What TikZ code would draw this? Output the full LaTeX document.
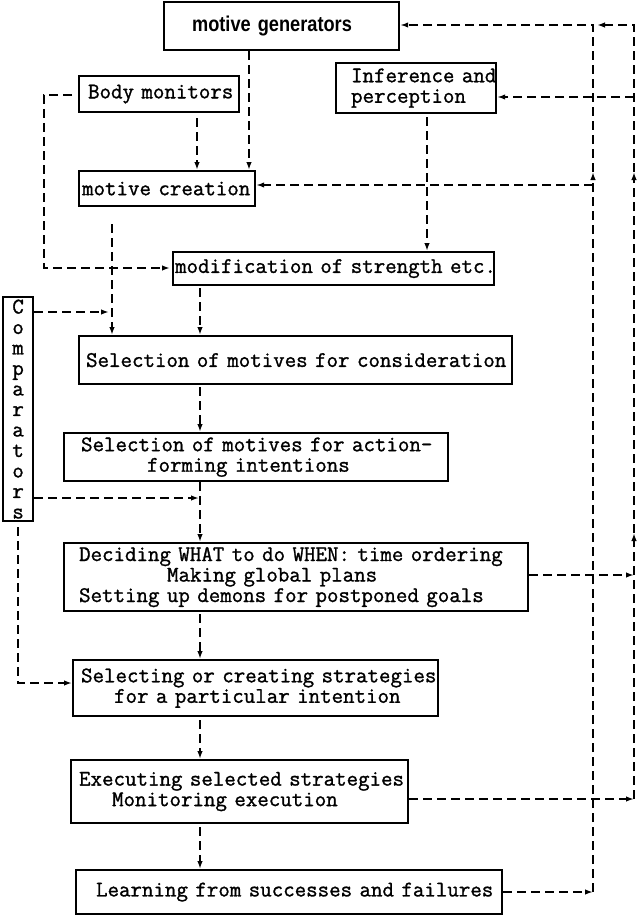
\documentclass[tikz,border=0pt]{standalone}
\usepackage{fontspec}
\usetikzlibrary{arrows.meta}
\newfontfamily\monofont[FakeBold=1.2]{Latin Modern Mono}
\newfontfamily\mgfont[FakeStretch=0.85]{Liberation Sans}
\begin{document}
\begin{tikzpicture}[x=1pt,y=-1pt,
  box/.style={draw, line width=2.2pt, inner sep=0pt, anchor=north west, align=left,
    font={\monofont\fontsize{22.3}{20.5}\selectfont}},
  conn/.style={line width=1.8pt, dash pattern=on 9pt off 5pt, -{Latex[length=8pt,width=5.5pt]}}]
\useasboundingbox (0,0) rectangle (638,915);

\node[box, text width=235pt, minimum height=48pt, font={\mgfont\bfseries\fontsize{21.4}{24}\selectfont}] (mg) at (163,1) {\hspace*{28pt}\mbox{motive generators}};
\node[box, text width=160pt, minimum height=36pt] (bm) at (78,75) {\hspace*{9pt}\mbox{Body monitors}};
\node[box, text width=160pt, minimum height=50pt] (ip) at (335,62) {\hspace*{15pt}\mbox{Inference and}\\\hspace*{15pt}\mbox{perception}};
\node[box, text width=176pt, minimum height=35pt] (mc) at (78,170) {\hspace*{3pt}\mbox{motive creation}};
\node[box, text width=321pt, minimum height=33pt] (ms) at (172,251) {\hspace*{2pt}\mbox{modification of strength etc.}};
\node[box, text width=30pt, minimum height=224pt, align=center] (cmp) at (2,296) {C\\o\\m\\p\\a\\r\\a\\t\\o\\r\\s};
\node[box, text width=433pt, minimum height=48pt] (sc) at (78,335) {\hspace*{7pt}\mbox{Selection of motives for consideration}};
\node[box, text width=384pt, minimum height=48pt] (sa) at (63,432) {\hspace*{17pt}\mbox{Selection of motives for action-}\\\hspace*{83pt}\mbox{forming intentions}};
\node[box, text width=464pt, minimum height=68pt] (dw) at (63,542) {\hspace*{15pt}\mbox{Deciding WHAT to do WHEN: time ordering}\\\hspace*{103pt}\mbox{Making global plans}\\\hspace*{15pt}\mbox{Setting up demons for postponed goals}};
\node[box, text width=365pt, minimum height=56pt] (ss) at (72,659) {\hspace*{8pt}\mbox{Selecting or creating strategies}\\\hspace*{41pt}\mbox{for a particular intention}};
\node[box, text width=337pt, minimum height=63pt] (ex) at (70,759) {\hspace*{8pt}\mbox{Executing selected strategies}\\\hspace*{41pt}\mbox{Monitoring execution}};
\node[box, text width=426pt, minimum height=44pt] (lf) at (75,869) {\hspace*{20pt}\mbox{Learning from successes and failures}};

% routing coordinates
\coordinate (xbm) at (197,0);
\coordinate (xmg) at (249,0);
\coordinate (xip) at (427,0);
\coordinate (xmc) at (112,0);
\coordinate (xc) at (200,0);
\coordinate (xA) at (593,0);
\coordinate (xA2) at (597,0);
\coordinate (xB) at (634,0);
\coordinate (xL) at (44,0);
\coordinate (xcmp) at (18,0);
\coordinate (yt) at (0,25);
\coordinate (ymc) at (0,185);
\coordinate (yip) at (0,97);
\coordinate (ybm) at (0,95);
\coordinate (yms) at (0,268);
\coordinate (yc1) at (0,312);
\coordinate (yc2) at (0,498);
\coordinate (yss) at (0,683);
\coordinate (ydw) at (0,575);
\coordinate (yex) at (0,799);
\coordinate (ylf) at (0,892);
\coordinate (yar1) at (0,172);
\coordinate (yar2) at (0,533);

\draw[conn] (xmg |- mg.south) -- (xmg |- mc.north);
\draw[conn, shorten <=5pt] (xbm |- bm.south) -- (xbm |- mc.north);
\draw[conn, shorten <=6pt, shorten >=2pt] (bm.west |- ybm) -- (xL |- ybm) -- (xL |- yms) -- (ms.west |- yms);
\draw[conn, shorten <=3pt] (xip |- ip.south) -- (xip |- ms.north);
\draw[conn, shorten <=17pt] (xmc |- mc.south) -- (xmc |- sc.north);
\draw[conn, shorten >=3pt] (cmp.east |- yc1) -- (xmc |- yc1);
\draw[conn, shorten <=2pt] (xc |- ms.south) -- (xc |- sc.north);
\draw[conn, shorten <=2pt] (xc |- sc.south) -- (xc |- sa.north);
\draw[conn] (xc |- sa.south) -- (xc |- dw.north);
\draw[conn, shorten >=1pt] (cmp.east |- yc2) -- (xc |- yc2);
\draw[conn, shorten <=2pt] (xc |- dw.south) -- (xc |- ss.north);
\draw[conn, shorten <=5pt] (xcmp |- cmp.south) -- (xcmp |- yss) -- (ss.west |- yss);
\draw[conn, shorten <=3pt] (xc |- ss.south) -- (xc |- ex.north);
\draw[conn, shorten <=3pt] (xc |- ex.south) -- (xc |- lf.north);

\draw[conn] (lf.east |- ylf) -- (xA |- ylf);
\draw[conn] (xA |- ylf) -- (xA |- yar1);
\draw[conn] (xA |- yar1) -- (xA |- yt) -- (mg.east |- yt);
\draw[conn] (xA |- ymc) -- (mc.east |- ymc);

\draw[conn] (dw.east |- ydw) -- (xB |- ydw);
\draw[conn] (ex.east |- yex) -- (xB |- yex);
\draw[conn] (xB |- yex) -- (xB |- yar2);
\draw[conn] (xB |- yar2) -- (xB |- yar1);
\draw[conn] (xB |- yar1) -- (xB |- yt) -- (xA2 |- yt);
\draw[conn] (xB |- yip) -- (ip.east |- yip);
\end{tikzpicture}
\end{document}
